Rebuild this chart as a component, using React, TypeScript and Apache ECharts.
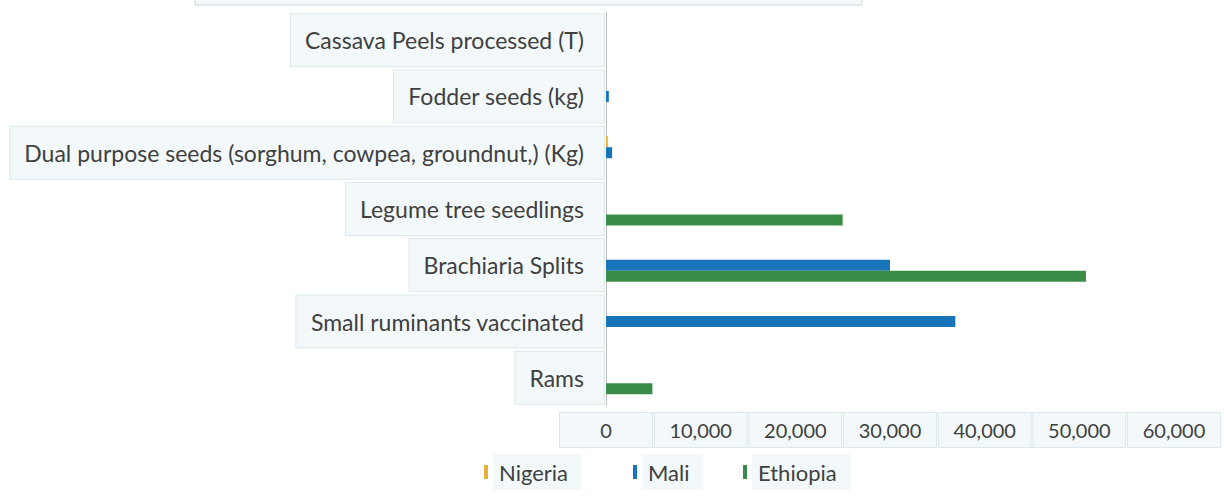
import React, { useEffect, useRef } from "react";
import * as echarts from "echarts";

const categories = [
  "Cassava Peels processed (T)",
  "Fodder seeds (kg)",
  "Dual purpose seeds (sorghum, cowpea, groundnut,) (Kg)",
  "Legume tree seedlings",
  "Brachiaria Splits",
  "Small ruminants vaccinated",
  "Rams",
];
const seriesNames = ["Nigeria", "Mali", "Ethiopia"];
const nigeria = [0, 0, 200, 0, 0, 0, 0];
const mali = [0, 300, 650, 0, 30000, 36900, 0];
const ethiopia = [0, 0, 0, 25000, 50700, 0, 4900];
const xTicks = { min: 0, max: 60000, interval: 10000 };
const colors = ["#e6b23c", "#1874b8", "#3a8b46"];

const FONT = "Lato, 'Open Sans', sans-serif";
const TXT = "#404040";
const BOXBG = "#f3f9fb";
const BOXBORDER = "#dde8ea";

export default function App() {
  const ref = useRef<HTMLDivElement>(null);
  useEffect(() => {
    if (!ref.current) return;
    const chart = echarts.init(ref.current, null, { renderer: "svg" });
    const values = [nigeria, mali, ethiopia];
    const legendLefts = [484, 633, 743];
    chart.setOption({
      animation: false,
      color: colors,
      grid: { left: 606, right: 46, top: 12, bottom: 91, containLabel: false },
      graphic: [
        {
          type: "rect",
          shape: { x: 195, y: -30, width: 667, height: 35 },
          style: { fill: BOXBG, stroke: "#cfd8da", lineWidth: 1 },
        },
      ],
      legend: seriesNames.map((n, i) => ({
        data: [n],
        left: legendLefts[i],
        top: 454,
        padding: 0,
        icon: "rect",
        itemWidth: 4,
        itemHeight: 14,
        textStyle: {
          fontFamily: FONT,
          fontSize: 22,
          color: TXT,
          backgroundColor: BOXBG,
          padding: [6, 14, 6, 6],
          lineHeight: 24,
        },
      })),
      xAxis: {
        type: "value",
        min: xTicks.min,
        max: xTicks.max,
        interval: xTicks.interval,
        axisLine: { show: false },
        axisTick: { show: false },
        splitLine: { show: false },
        axisLabel: {
          fontFamily: FONT,
          fontSize: 20,
          color: TXT,
          margin: 7,
          width: 92,
          height: 34,
          lineHeight: 34,
          align: "center",
          showMinLabel: true,
          showMaxLabel: true,
          hideOverlap: false,
          backgroundColor: BOXBG,
          borderColor: BOXBORDER,
          borderWidth: 1,
          formatter: (v: number) => v.toLocaleString("en-US"),
        },
      },
      yAxis: {
        type: "category",
        data: categories,
        inverse: true,
        axisLine: { show: true, lineStyle: { color: "#bfbfbf", width: 1 } },
        axisTick: { show: false },
        axisLabel: {
          fontFamily: FONT,
          fontSize: 23,
          color: TXT,
          margin: 2,
          height: 52,
          lineHeight: 52,
          padding: [0, 20, 0, 14],
          backgroundColor: BOXBG,
          borderColor: BOXBORDER,
          borderWidth: 1,
        },
      },
      series: seriesNames.map((n, i) => ({
        name: n,
        type: "bar",
        data: values[i],
        barWidth: 11,
        barGap: "0%",
        itemStyle: { color: colors[i] },
      })),
    });
    return () => chart.dispose();
  }, []);
  return (
    <div
      ref={ref}
      style={{ position: "fixed", left: 0, top: 0, width: 1224, height: 497, background: "#fff" }}
    />
  );
}
